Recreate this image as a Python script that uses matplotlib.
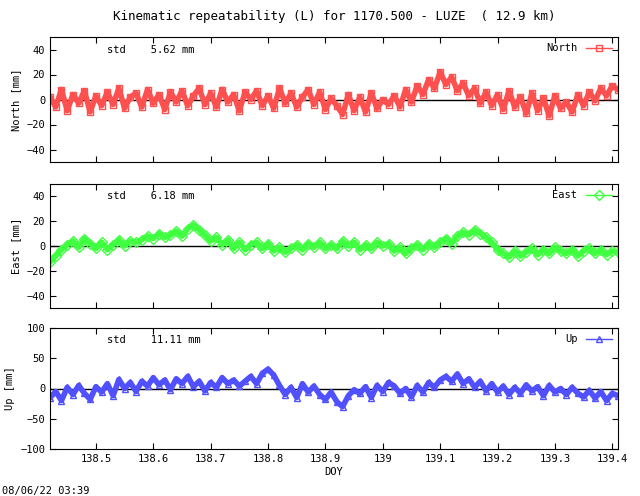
import numpy as np
import matplotlib.pyplot as plt

plt.rcParams['font.family'] = 'DejaVu Sans Mono'
plt.rcParams['font.size'] = 7.5

# DOY sample positions (every 0.01 day)
doy = np.round(np.arange(138.42, 139.415, 0.01), 2)

north = [2,-6,8,-9,4,-3,7,-10,3,-5,6,-4,9,-7,2,5,-6,8,-3,4,-8,6,-2,7,-5,3,9,-4,5,-6,
         8,-2,4,-9,6,0,7,-5,3,-7,9,-3,5,-6,2,8,-4,6,-8,1,-5,-12,4,-9,2,-10,5,-7,0,-4,
         3,-6,8,-2,11,4,16,9,22,12,18,7,13,3,9,-3,6,-5,4,-8,7,-6,2,-11,5,-9,1,-13,3,-7,
         -2,-10,4,-5,6,-1,9,3,11,8]
east = [-13,-8,-3,1,4,-1,6,2,-2,3,-3,1,5,0,4,3,5,8,6,10,7,9,12,8,14,17,13,9,4,7,
        1,5,-2,3,-3,1,3,-2,2,-4,-1,-5,-2,1,-3,2,-1,3,-2,1,-2,4,0,3,-3,1,-2,3,0,2,
        -4,-1,-6,-2,1,-3,2,-1,3,6,2,8,11,9,13,10,7,3,-3,-6,-9,-4,-8,-5,-2,-7,-3,-6,-1,-4,
        -6,-3,-8,-4,-2,-6,-3,-7,-4,-5]
up = [-15,-5,-20,2,-10,5,-8,-18,3,-6,8,-12,15,0,10,-5,12,4,18,6,14,-2,16,8,20,3,12,-4,10,2,
      18,8,14,4,12,20,8,25,32,22,5,-10,2,-15,8,-6,4,-10,-18,-6,-22,-30,-12,-2,-8,3,-15,5,-5,10,
      4,-8,0,-14,5,-6,10,2,14,20,12,24,8,16,2,12,-4,8,-6,4,-10,2,-8,6,-4,3,-12,5,-6,0,
      -10,2,-8,-14,-3,-16,-5,-20,-8,-12]

panels = [
    ('North', north, '#ff5050', 's', 'North [mm]', (-50, 50), [-40, -20, 0, 20, 40], 'std    5.62 mm', (37, 162)),
    ('East', east, '#40ff40', 'D', 'East [mm]', (-50, 50), [-40, -20, 0, 20, 40], 'std    6.18 mm', (184, 308)),
    ('Up', up, '#5050ff', '^', 'Up [mm]', (-100, 100), [-100, -50, 0, 50, 100], 'std    11.11 mm', (328, 449)),
]

fig = plt.figure(figsize=(6.4, 4.96), dpi=100)
for i, (name, vals, col, mk, ylab, ylim, yt, stdtxt, (ytop, ybot)) in enumerate(panels):
    ax = fig.add_axes([50/640, 1-ybot/496, 568/640, (ybot-ytop)/496])
    ax.axhline(0, color='black', lw=1, zorder=1)
    ax.plot(doy, vals, color=col, lw=4, marker=mk, ms=5, mfc='none', mec=col,
            mew=1, label=name, zorder=2)
    ax.set_xlim(138.42, 139.41)
    ax.set_ylim(*ylim)
    ax.set_yticks(yt)
    ax.set_ylabel(ylab)
    ax.set_xticks([138.5, 138.6, 138.7, 138.8, 138.9, 139.0, 139.1, 139.2, 139.3, 139.4])
    ax.tick_params(direction='in', top=True, right=True, length=4)
    ax.text(0.1, 0.9, stdtxt, transform=ax.transAxes, va='center')
    leg = ax.legend(loc='upper right', frameon=False, markerfirst=False, handlelength=2.5,
                    borderaxespad=0.2)
    for h in leg.get_lines():
        h.set_linewidth(1)
    if i < 2:
        ax.set_xticklabels([])
    else:
        ax.set_xticklabels(['138.5', '138.6', '138.7', '138.8', '138.9', '139',
                            '139.1', '139.2', '139.3', '139.4'])
        ax.set_xlabel('DOY', labelpad=2)
    if i == 0:
        ax.set_title('Kinematic repeatability (L) for 1170.500 - LUZE  ( 12.9 km)', pad=12)

fig.text(2/640, 1-491/496, '08/06/22 03:39', va='center')
fig.savefig('out.png', dpi=100)
